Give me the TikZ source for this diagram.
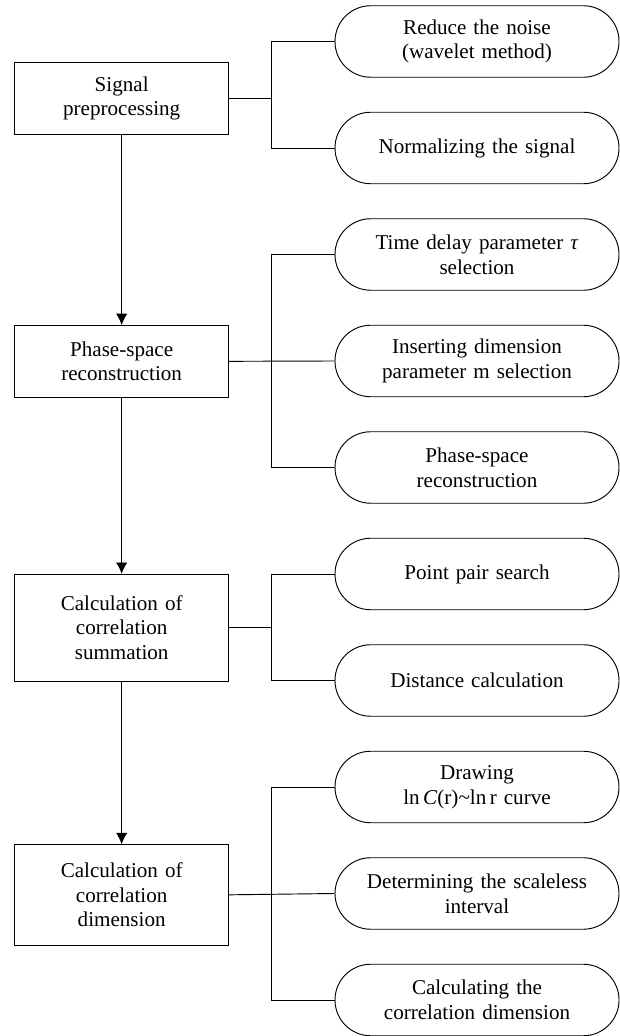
\documentclass[tikz,border=0pt]{standalone}
\usepackage{fontspec}
\setmainfont{Liberation Serif}
\usepackage{tikz}
\usetikzlibrary{arrows.meta}
\tikzset{
    stage/.style = {rectangle, minimum width=6.42cm, minimum height=2.15cm, text centered, draw=black, text width=6cm, line width=0.8pt, font=\fontsize{18}{21}\selectfont},
    task/.style = {rectangle, rounded corners=1.07cm, minimum width=8.52cm, minimum height=2.145cm, text centered, draw=black, text width=8cm, line width=0.8pt, font=\fontsize{18}{21}\selectfont},
    arrow/.style = {line width=0.8pt, ->, >={Latex[length=0.34cm, width=0.34cm]}},
    link/.style = {line width=0.8pt}
}

\begin{document}
\begin{tikzpicture}
    \useasboundingbox (0, 0) rectangle (18.6, 31.08);

    \node (signal) [stage] at (3.65, 28.125) {Signal\\preprocessing};
    \node (phase) [stage] at (3.65, 20.24) {Phase-space\\reconstruction};
    \node (summ) [stage, minimum height=3.2cm] at (3.65, 12.25) {Calculation of\\correlation\\summation};
    \node (cdim) [stage, minimum height=3.01cm] at (3.65, 4.235) {Calculation of\\correlation\\dimension};

    \node (noise) [task] at (14.31, 29.835) {Reduce the noise\\(wavelet method)};
    \node (norm) [task] at (14.31, 26.64) {Normalizing the signal};

    \node (delay) [task] at (14.31, 23.445) {Time delay parameter \textit{τ}\\selection};
    \node (embed) [task] at (14.31, 20.25) {Inserting dimension\\parameter m selection};
    \node (recon) [task] at (14.31, 17.055) {Phase-space\\reconstruction};

    \node (pairs) [task] at (14.31, 13.86) {Point pair search};
    \node (dist) [task] at (14.31, 10.665) {Distance calculation};

    \node (lncurve) [task] at (14.31, 7.47) {Drawing\\ln\,\textit{C}(r)\textasciitilde ln\,r curve};
    \node (scaleless) [task] at (14.31, 4.275) {Determining the scaleless\\interval};
    \node (corrdim) [task] at (14.31, 1.08) {Calculating the\\correlation dimension};

    \coordinate (j1) at (8.15, 28.125);
    \coordinate (j2) at (8.15, 20.24);
    \coordinate (j3) at (8.15, 12.25);
    \coordinate (j4) at (8.15, 4.235);

    \draw [arrow] (signal) -- (phase);
    \draw [arrow] (phase) -- (summ);
    \draw [arrow] (summ) -- (cdim);

    \draw [link] (signal.east) -- (j1);
    \draw [link] (j1) |- (noise.west);
    \draw [link] (j1) |- (norm.west);

    \draw [link] (phase.east) -- (embed.west);
    \draw [link] (j2) |- (delay.west);
    \draw [link] (j2) |- (recon.west);

    \draw [link] (summ.east) -- (j3);
    \draw [link] (j3) |- (pairs.west);
    \draw [link] (j3) |- (dist.west);

    \draw [link] (cdim.east) -- (scaleless.west);
    \draw [link] (j4) |- (lncurve.west);
    \draw [link] (j4) |- (corrdim.west);
\end{tikzpicture}
\end{document}
